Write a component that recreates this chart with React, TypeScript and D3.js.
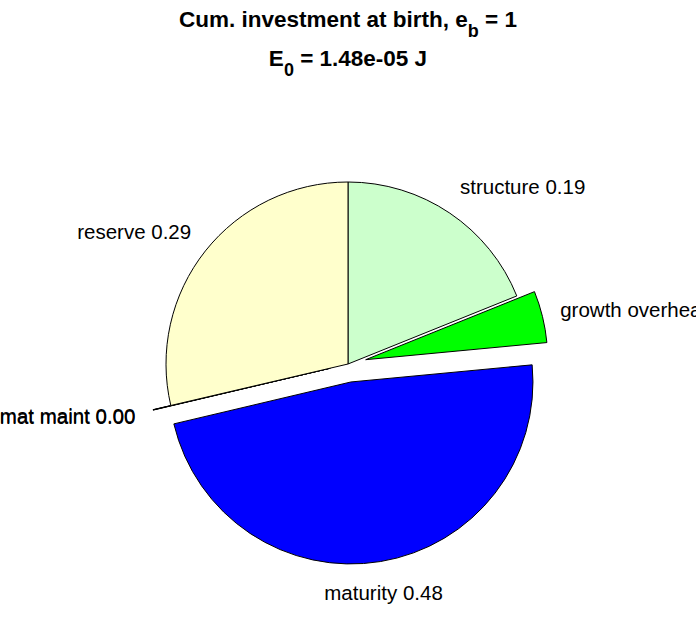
import React from "react";
import * as d3 from "d3";

const categories = ["structure", "growth overhead", "maturity", "somat maint", "mat maint", "reserve"];
const values = [0.189, 0.046, 0.478, 0.0002, 0.0002, 0.2866];
const colors = ["#ccffcc", "#00ff00", "#0000ff", "#000000", "#000000", "#ffffcc"];
const exploded = [false, true, true, true, true, false];

const W = 696;
const H = 618;
const CX = 348;
const CY = 364;
const R = 182;
const FONT = "'Liberation Sans', Arial, Helvetica, sans-serif";

export default function App() {
  const data = categories.map((c, i) => ({ c, v: values[i], col: colors[i], ex: exploded[i] }));
  const pie = d3
    .pie<any>()
    .sort(null)
    .value((d) => d.v)
    .startAngle(0)
    .endAngle(2 * Math.PI);
  const arcs = pie(data);
  const arc = d3.arc<any>().innerRadius(0).outerRadius(R);
  const expl = 0.1 * R;
  const labelR = 1.1 * R;

  return (
    <svg
      width={W}
      height={H}
      style={{ position: "absolute", left: 0, top: 0, background: "#fff" }}
      fontFamily={FONT}
    >
      <rect x={0} y={0} width={W} height={H} fill="#fff" />
      <text x={W / 2} y={27} textAnchor="middle" fontWeight="bold" fontSize={22.5}>
        Cum. investment at birth, e
        <tspan fontSize={18} dy={10}>b</tspan>
        <tspan dy={-10}> = 1</tspan>
      </text>
      <text x={W / 2} y={66} textAnchor="middle" fontWeight="bold" fontSize={22.5}>
        E
        <tspan fontSize={18} dy={10}>0</tspan>
        <tspan dy={-10}> = 1.48e-05 J</tspan>
      </text>
      <g transform={`translate(${CX},${CY})`}>
        {arcs.map((a, i) => {
          const mid = (a.startAngle + a.endAngle) / 2;
          const off = a.data.ex ? expl : 0;
          const dx = off * Math.sin(mid);
          const dy = -off * Math.cos(mid);
          return (
            <path
              key={i}
              d={arc(a) as string}
              transform={`translate(${dx},${dy})`}
              fill={a.data.col}
              stroke="#000"
              strokeWidth={1}
              strokeLinejoin="miter"
            />
          );
        })}
        {arcs.map((a, i) => {
          const mid = (a.startAngle + a.endAngle) / 2;
          const ux = Math.sin(mid);
          const uy = -Math.cos(mid);
          const off = a.data.ex ? expl : 0;
          const x = (labelR + off) * ux;
          const y = (labelR + off) * uy + Math.sign(uy) * Math.pow(Math.abs(uy), 1.2) * 14;
          let anchor = "middle";
          if (ux > 0.2) anchor = "start";
          else if (ux < -0.2) anchor = "end";
          return (
            <text
              key={"l" + i}
              x={x}
              y={y}
              dy="0.35em"
              textAnchor={anchor}
              fontSize={20.5}
              fill="#000"
            >
              {`${a.data.c} ${a.data.v.toFixed(2)}`}
            </text>
          );
        })}
      </g>
    </svg>
  );
}
